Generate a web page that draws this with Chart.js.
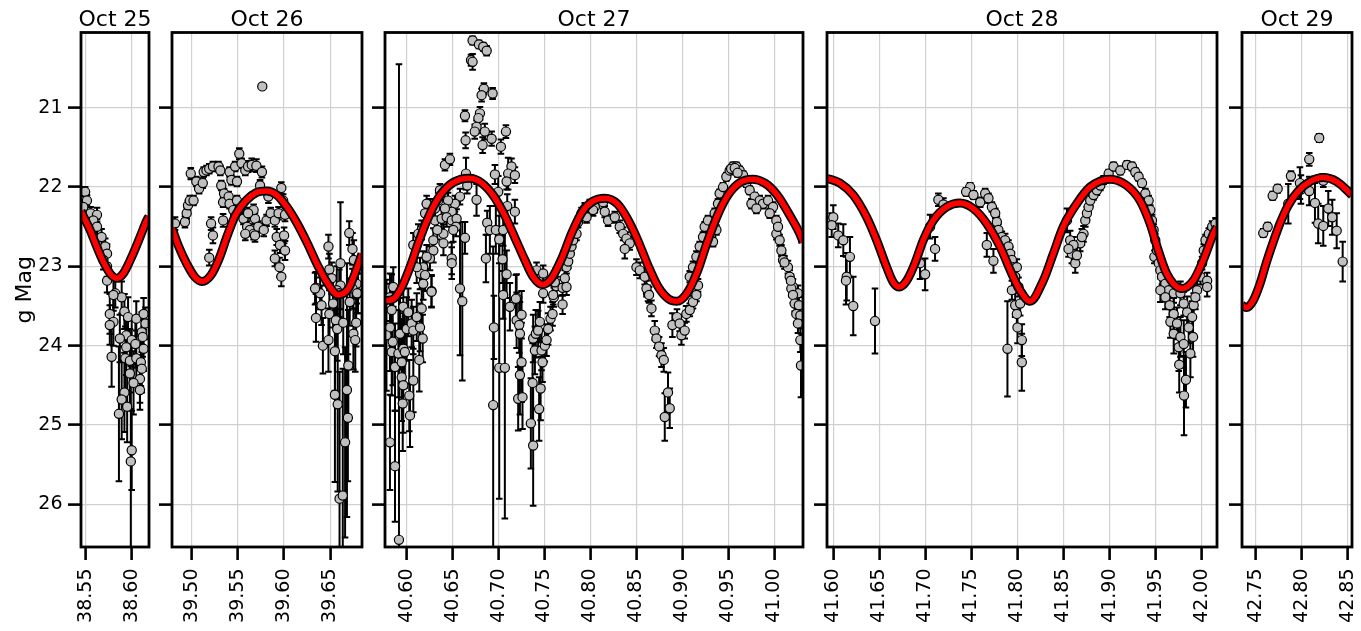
<!DOCTYPE html>
<html>
<head>
<meta charset="utf-8">
<title>g-band light curve</title>
<script src="https://cdn.jsdelivr.net/npm/chart.js@4.4.1/dist/chart.umd.min.js"></script>
<style>
  html, body { margin: 0; padding: 0; background: #fff; overflow: hidden; }
  #wrap { position: relative; width: 1361px; height: 631px; }
  #wrap canvas { position: absolute; top: 0; }
</style>
</head>
<body>
<div id="wrap"></div>
<script>
// ---- observations: time (MJD offset), g magnitude, 1-sigma error ----
const oct25Time = [
  38.5490, 38.5510, 38.5470, 38.5550, 38.5620, 38.5580, 38.5620, 38.5670,
  38.5710, 38.5730, 38.5690, 38.5730, 38.5730, 38.5820, 38.5890, 38.5800,
  38.5760, 38.5800, 38.5760, 38.5920, 38.5960, 38.6050, 38.6130, 38.6150,
  38.6110, 38.6120, 38.5940, 38.5870, 38.6000, 38.6040, 38.6130, 38.5940,
  38.5780, 38.5930, 38.5980, 38.6050, 38.6100, 38.6110, 38.5980, 38.6090,
  38.6020, 38.6090, 38.5920, 38.5890, 38.5950, 38.5860, 38.6000, 38.5990
];
const oct25Mag = [
  22.06, 22.17, 22.25, 22.33, 22.35, 22.42, 22.50, 22.63,
  22.75, 22.84, 22.92, 23.00, 23.18, 23.34, 23.39, 23.36,
  23.60, 23.70, 23.74, 23.57, 23.64, 23.66, 23.60, 23.72,
  23.83, 23.89, 23.87, 23.91, 23.93, 23.98, 24.04, 24.02,
  24.14, 24.16, 24.19, 24.16, 24.21, 24.29, 24.35, 24.42,
  24.47, 24.56, 24.59, 24.68, 24.77, 24.86, 25.32, 25.46
];
const oct25Err = [
  0.06, 0.07, 0.06, 0.08, 0.09, 0.08, 0.09, 0.10,
  0.10, 0.12, 0.12, 0.13, 0.15, 0.18, 0.20, 0.20,
  0.25, 0.30, 0.25, 0.22, 0.25, 0.22, 0.20, 0.20,
  0.25, 0.25, 0.30, 0.30, 0.30, 0.30, 0.28, 0.35,
  0.38, 0.40, 0.40, 0.35, 0.30, 0.30, 0.45, 0.30,
  0.40, 0.25, 0.50, 0.50, 0.45, 0.85, 0.50, 1.20
];

const oct26Time = [
  39.5764, 39.4820, 39.4927, 39.4946, 39.4960, 39.4980, 39.5020, 39.4990,
  39.5050, 39.5080, 39.5120, 39.5130, 39.5160, 39.5190, 39.5230, 39.5290,
  39.5310, 39.5210, 39.5230, 39.5190, 39.5320, 39.5350, 39.5340, 39.5340,
  39.5400, 39.5410, 39.5430, 39.5470, 39.5490, 39.5515, 39.5540, 39.5580,
  39.5610, 39.5650, 39.5700, 39.5760, 39.5740, 39.5410, 39.5450, 39.5490,
  39.5520, 39.5560, 39.5600, 39.5630, 39.5670, 39.5685, 39.5720, 39.5780,
  39.5810, 39.5855, 39.5900, 39.5940, 39.5970, 39.5990, 39.6010, 39.5920,
  39.5955, 39.6000, 39.6010, 39.5900, 39.5950, 39.5970, 39.5830, 39.5670,
  39.5610, 39.5580, 39.5685, 39.6345, 39.6390, 39.6480, 39.6490, 39.6515,
  39.6610, 39.6705, 39.6740, 39.6755, 39.6785, 39.6800, 39.6610, 39.6570,
  39.6335, 39.6345, 39.6405, 39.6420, 39.6480, 39.6490, 39.6530, 39.6550,
  39.6560, 39.6575, 39.6597, 39.6640, 39.6710, 39.6740, 39.6750, 39.6770,
  39.6780, 39.6790, 39.6695, 39.6680, 39.6690, 39.6660, 39.6550, 39.6580,
  39.6600, 39.6635
];
const oct26Mag = [
  20.73, 22.46, 22.44, 22.33, 22.23, 22.17, 22.17, 21.83,
  21.93, 22.02, 21.95, 21.81, 21.79, 21.77, 21.74, 21.74,
  21.79, 22.46, 22.61, 22.89, 21.98, 22.08, 22.19, 22.42,
  22.12, 21.81, 21.91, 21.74, 21.93, 21.58, 21.70, 21.79,
  21.74, 21.72, 21.73, 21.81, 21.98, 22.21, 22.29, 22.17,
  22.27, 22.40, 22.50, 22.54, 22.59, 22.40, 22.50, 22.54,
  22.42, 22.33, 22.42, 22.33, 22.01, 22.17, 22.35, 22.63,
  22.73, 22.61, 22.80, 22.90, 23.01, 23.13, 22.12, 22.29,
  22.33, 22.59, 22.61, 23.27, 23.34, 22.75, 23.04, 23.15,
  22.96, 22.58, 22.78, 22.92, 23.22, 23.34, 23.24, 23.30,
  23.28, 23.65, 23.49, 24.00, 23.93, 23.60, 23.47, 24.07,
  23.68, 23.79, 23.34, 23.71, 23.45, 23.28, 23.85, 23.93,
  23.71, 23.34, 24.25, 24.56, 24.91, 25.22, 24.62, 24.74,
  25.93, 25.89
];
const oct26Err = [
  0.03, 0.08, 0.07, 0.07, 0.06, 0.06, 0.06, 0.07,
  0.06, 0.06, 0.06, 0.06, 0.06, 0.06, 0.06, 0.06,
  0.06, 0.08, 0.10, 0.10, 0.06, 0.06, 0.06, 0.08,
  0.06, 0.06, 0.06, 0.06, 0.06, 0.07, 0.06, 0.06,
  0.07, 0.08, 0.08, 0.07, 0.07, 0.06, 0.06, 0.06,
  0.06, 0.07, 0.07, 0.07, 0.07, 0.07, 0.07, 0.08,
  0.07, 0.07, 0.08, 0.08, 0.07, 0.08, 0.08, 0.10,
  0.10, 0.10, 0.12, 0.10, 0.12, 0.12, 0.08, 0.07,
  0.07, 0.08, 0.08, 0.20, 0.20, 0.15, 0.20, 0.20,
  0.77, 0.15, 0.20, 0.25, 0.25, 0.25, 0.30, 0.30,
  0.20, 0.30, 0.25, 0.35, 0.40, 0.30, 0.30, 0.50,
  0.35, 0.40, 0.30, 0.40, 0.30, 0.25, 0.45, 0.40,
  0.30, 0.25, 0.70, 1.60, 0.80, 1.20, 1.10, 1.10,
  1.60, 1.60
];

const oct27Time = [
  40.6717, 40.6786, 40.6833, 40.6870, 40.6700, 40.6717, 40.6840, 40.6815,
  40.6935, 40.6634, 40.6797, 40.6780, 40.6760, 40.6740, 40.6850, 40.6924,
  40.6826, 40.6641, 40.7080, 40.7025, 40.6416, 40.6470, 40.6960, 40.7140,
  40.7104, 40.7177, 40.7087, 40.6645, 40.6659, 40.6760, 40.6996, 40.7094,
  40.7177, 40.6876, 40.6905, 40.6970, 40.7007, 40.7050, 40.6862, 40.7043,
  40.7087, 40.6634, 40.6580, 40.6605, 40.7050, 40.7196, 40.6580, 40.6525,
  40.6490, 40.6450, 40.6416, 40.6362, 40.6343, 40.6308, 40.6253, 40.6217,
  40.6200, 40.6308, 40.6380, 40.6435, 40.6490, 40.6543, 40.6536, 40.6507,
  40.6400, 40.6333, 40.6290, 40.6400, 40.6290, 40.6253, 40.6217, 40.6163,
  40.6126, 40.6072, 40.6180, 40.6145, 40.6200, 40.6180, 40.6270, 40.6490,
  40.6490, 40.6109, 40.5854, 40.5818, 40.5837, 40.5818, 40.5848, 40.5837,
  40.5780, 40.5873, 40.5910, 40.5946, 40.5963, 40.5980, 40.5927, 40.6000,
  40.5963, 40.6017, 40.6054, 40.6072, 40.6109, 40.6145, 40.6163, 40.6174,
  40.6137, 40.6072, 40.6028, 40.5946, 40.5963, 40.5957, 40.6036, 40.5818,
  40.5873, 40.5916, 40.6270, 40.6949, 40.6941, 40.7007, 40.7068, 40.7123,
  40.7188, 40.7196, 40.7224, 40.7250, 40.7232, 40.7250, 40.7232, 40.7213,
  40.7260, 40.7351, 40.7376, 40.7370, 40.7441, 40.7457, 40.7376, 40.7405,
  40.7430, 40.7449, 40.7395, 40.7478, 40.7467, 40.7503, 40.7522, 40.7539,
  40.7565, 40.7587, 40.7601, 40.7630, 40.7696, 40.7696, 40.7413, 40.7485,
  40.7612, 40.7594, 40.7485, 40.7720, 40.7739, 40.7757, 40.7775, 40.7793,
  40.7811, 40.7848, 40.7865, 40.7902, 40.7938, 40.7992, 40.8047, 40.7957,
  40.7739, 40.8028, 40.8137, 40.8155, 40.8191, 40.8264, 40.8318, 40.8355,
  40.8391, 40.8427, 40.8373, 40.8500, 40.8536, 40.8590, 40.8626, 40.8609,
  40.8637, 40.8663, 40.8699, 40.8717, 40.8746, 40.8772, 40.8797, 40.8843,
  40.8862, 40.8808, 40.8891, 40.8941, 40.8970, 40.8989, 40.9025, 40.9043,
  40.9080, 40.9115, 40.9152, 40.9170, 40.9080, 40.9115, 40.9152, 40.9188,
  40.9224, 40.9242, 40.9278, 40.9315, 40.9333, 40.9370, 40.9351, 40.9387,
  40.9405, 40.9442, 40.9478, 40.9514, 40.9550, 40.9587, 40.9623, 40.9660,
  40.9696, 40.9732, 40.9786, 40.9841, 40.9877, 40.9932, 40.9986, 41.0022,
  41.0022, 41.0058, 41.0077, 41.0095, 41.0148, 41.0167, 41.0203, 41.0257,
  40.9751, 40.9805, 40.9950, 41.0185, 41.0203, 41.0221, 41.0267, 41.0239,
  41.0283, 41.0257, 41.0283, 41.0290, 40.9530, 40.9570, 40.9600, 41.0040,
  41.0110, 41.0180
];
const oct27Mag = [
  20.15, 20.20, 20.23, 20.28, 20.40, 20.42, 20.76, 20.84,
  20.82, 21.10, 21.07, 21.13, 21.24, 21.30, 21.30, 21.39,
  21.47, 21.41, 21.30, 21.49, 21.72, 21.65, 21.84, 21.74,
  21.83, 21.85, 21.93, 21.83, 21.98, 22.16, 22.06, 22.24,
  22.31, 22.45, 22.54, 22.54, 22.66, 22.54, 22.90, 22.91,
  23.10, 22.64, 23.28, 23.44, 23.36, 23.40, 22.12, 22.21,
  22.31, 22.17, 22.27, 22.04, 22.17, 22.27, 22.25, 22.21,
  22.33, 22.42, 22.40, 22.38, 22.42, 22.40, 22.50, 22.54,
  22.59, 22.54, 22.67, 22.71, 22.80, 22.90, 22.88, 22.54,
  22.59, 22.73, 23.01, 23.09, 23.11, 23.22, 23.31, 22.90,
  22.96, 23.01, 23.26, 23.39, 23.55, 23.77, 23.95, 24.08,
  23.87, 24.27, 24.10, 24.21, 24.04, 24.08, 23.85, 23.79,
  23.51, 23.58, 23.72, 23.81, 23.64, 23.77, 23.53, 23.91,
  24.18, 24.44, 24.63, 24.40, 24.50, 24.73, 24.88, 25.22,
  25.52, 26.45, 23.32, 23.77, 24.75, 24.28, 24.28, 23.51,
  23.41, 23.68, 23.74, 23.61, 23.85, 24.21, 24.37, 24.67,
  24.65, 24.98, 25.26, 24.47, 24.80, 24.54, 23.91, 23.85,
  23.81, 23.70, 24.06, 24.21, 24.06, 24.00, 23.93, 23.79,
  23.66, 23.60, 23.39, 23.25, 23.27, 23.48, 23.05, 23.09,
  23.20, 23.36, 23.34, 23.15, 23.01, 22.94, 22.84, 22.75,
  22.67, 22.59, 22.44, 22.33, 22.27, 22.23, 22.25, 22.38,
  23.26, 22.29, 22.19, 22.31, 22.42, 22.38, 22.50, 22.59,
  22.65, 22.71, 22.78, 23.01, 23.05, 23.13, 23.34, 23.28,
  23.36, 23.53, 23.81, 23.91, 24.01, 24.12, 24.18, 24.59,
  24.79, 24.90, 23.74, 23.64, 23.72, 23.87, 23.81, 23.60,
  23.55, 23.45, 23.36, 23.24, 23.13, 23.01, 22.88, 22.75,
  22.63, 22.50, 22.42, 22.59, 22.69, 22.54, 22.33, 22.21,
  22.08, 22.00, 21.87, 21.79, 21.74, 21.74, 21.79, 21.85,
  21.95, 22.04, 22.12, 22.17, 22.21, 22.17, 22.25, 22.42,
  22.59, 22.67, 22.80, 22.92, 23.01, 23.13, 23.26, 23.34,
  22.21, 22.27, 22.33, 23.28, 23.36, 23.47, 23.49, 23.60,
  23.62, 23.72, 23.93, 24.25, 21.77, 21.76, 21.82, 22.50,
  22.95, 23.18
];
const oct27Err = [
  0.05, 0.05, 0.05, 0.06, 0.07, 0.10, 0.07, 0.08,
  0.07, 0.07, 0.08, 0.08, 0.08, 0.09, 0.10, 0.09,
  0.10, 0.10, 0.08, 0.09, 0.07, 0.07, 0.12, 0.10,
  0.20, 0.10, 0.10, 0.20, 0.10, 0.20, 0.20, 0.15,
  0.15, 0.15, 0.30, 0.30, 0.30, 0.20, 0.30, 0.30,
  0.30, 0.20, 0.84, 1.00, 0.30, 0.30, 0.10, 0.10,
  0.10, 0.10, 0.10, 0.08, 0.10, 0.10, 0.10, 0.10,
  0.12, 0.12, 0.12, 0.12, 0.12, 0.12, 0.12, 0.15,
  0.12, 0.12, 0.15, 0.15, 0.15, 0.15, 0.15, 0.12,
  0.12, 0.15, 0.20, 0.20, 0.20, 0.20, 0.20, 0.20,
  0.20, 0.20, 0.25, 0.30, 0.45, 0.55, 0.55, 0.55,
  0.70, 0.55, 0.55, 0.55, 0.45, 0.45, 0.45, 0.40,
  0.30, 0.30, 0.30, 0.30, 0.30, 0.30, 0.25, 0.30,
  0.40, 0.40, 0.45, 0.55, 0.60, 0.60, 0.40, 0.60,
  0.70, 6.00, 0.20, 0.40, 2.00, 1.65, 1.90, 0.30,
  0.30, 0.35, 0.35, 0.30, 0.40, 0.50, 0.50, 0.40,
  0.40, 0.57, 0.76, 0.50, 0.40, 0.40, 0.30, 0.30,
  0.25, 0.25, 0.30, 0.25, 0.25, 0.20, 0.20, 0.20,
  0.15, 0.15, 0.12, 0.12, 0.10, 0.12, 0.10, 0.10,
  0.10, 0.12, 0.12, 0.10, 0.08, 0.08, 0.08, 0.08,
  0.08, 0.08, 0.07, 0.07, 0.07, 0.07, 0.07, 0.07,
  0.10, 0.07, 0.08, 0.07, 0.07, 0.07, 0.08, 0.08,
  0.08, 0.08, 0.12, 0.10, 0.10, 0.10, 0.10, 0.10,
  0.10, 0.10, 0.12, 0.12, 0.12, 0.15, 0.15, 0.25,
  0.25, 0.30, 0.15, 0.10, 0.10, 0.12, 0.10, 0.10,
  0.08, 0.08, 0.08, 0.08, 0.07, 0.07, 0.07, 0.06,
  0.06, 0.06, 0.06, 0.06, 0.06, 0.06, 0.06, 0.06,
  0.05, 0.05, 0.05, 0.05, 0.05, 0.05, 0.05, 0.05,
  0.05, 0.05, 0.05, 0.06, 0.06, 0.06, 0.06, 0.06,
  0.07, 0.07, 0.07, 0.08, 0.08, 0.08, 0.10, 0.10,
  0.06, 0.06, 0.06, 0.10, 0.10, 0.10, 0.10, 0.12,
  0.12, 0.12, 0.15, 0.40, 0.05, 0.05, 0.05, 0.07,
  0.08, 0.08
];

const oct28Time = [
  41.6000, 41.5983, 41.6054, 41.6109, 41.6181, 41.6146, 41.6138, 41.6217,
  41.6453, 41.7141, 41.7196, 41.7105, 41.6997, 41.7051, 41.6942, 41.7486,
  41.7442, 41.7522, 41.7595, 41.7649, 41.7685, 41.7722, 41.7758, 41.7776,
  41.7793, 41.7830, 41.7866, 41.7902, 41.7921, 41.7939, 41.7957, 41.7667,
  41.7739, 41.7993, 41.7891, 41.7975, 41.7993, 41.8000, 41.8047, 41.8047,
  41.8029, 41.7939, 41.8011, 41.7975, 41.8537, 41.8572, 41.8590, 41.8627,
  41.8645, 41.8681, 41.8717, 41.8736, 41.8699, 41.8608, 41.8554, 41.8754,
  41.8772, 41.8790, 41.8826, 41.8862, 41.8899, 41.8935, 41.8990, 41.9043,
  41.9116, 41.9189, 41.9243, 41.9279, 41.9315, 41.9352, 41.9388, 41.9424,
  41.9442, 41.9460, 41.9478, 41.9496, 41.9486, 41.9515, 41.9533, 41.9551,
  41.9569, 41.9605, 41.9642, 41.9696, 41.9950, 41.9986, 42.0004, 42.0022,
  42.0041, 42.0077, 42.0113, 42.0150, 42.0059, 41.9551, 41.9605, 41.9652,
  41.9696, 41.9660, 41.9732, 41.9696, 41.9769, 41.9751, 41.9805, 41.9756,
  41.9829, 41.9808, 41.9877, 41.9906, 41.9859, 41.9842, 41.9896, 41.9913,
  41.9931, 41.9805, 41.9769, 42.0059
];
const oct28Mag = [
  22.38, 22.48, 22.61, 22.67, 22.88, 23.13, 23.18, 23.50,
  23.69, 22.16, 22.22, 22.78, 23.10, 22.50, 22.96, 22.00,
  22.06, 22.10, 22.19, 22.08, 22.14, 22.25, 22.33, 22.44,
  22.54, 22.63, 22.67, 22.75, 22.84, 22.92, 23.01, 22.73,
  22.93, 23.01, 24.04, 23.49, 23.60, 23.77, 23.93, 24.21,
  23.47, 23.30, 23.26, 23.13, 22.42, 22.67, 22.84, 22.96,
  22.86, 22.71, 22.59, 22.42, 22.63, 22.73, 22.78, 22.33,
  22.25, 22.17, 22.10, 22.04, 21.98, 21.91, 21.83, 21.74,
  21.79, 21.72, 21.74, 21.81, 21.87, 21.95, 22.08, 22.17,
  22.29, 22.42, 22.54, 22.67, 22.88, 22.80, 22.96, 23.05,
  23.13, 23.22, 23.30, 23.34, 23.30, 23.13, 22.96, 22.80,
  22.67, 22.59, 22.50, 22.46, 23.18, 23.30, 23.39, 23.49,
  23.60, 23.70, 23.72, 23.85, 23.89, 24.02, 23.98, 24.24,
  24.43, 24.63, 24.10, 23.89, 23.77, 23.58, 23.64, 23.49,
  23.39, 23.47, 23.34, 23.26
];
const oct28Err = [
  0.15, 0.15, 0.15, 0.20, 0.25, 0.30, 0.30, 0.37,
  0.41, 0.08, 0.08, 0.15, 0.20, 0.15, 0.20, 0.05,
  0.05, 0.05, 0.06, 0.06, 0.06, 0.06, 0.06, 0.07,
  0.07, 0.07, 0.08, 0.08, 0.08, 0.10, 0.10, 0.15,
  0.15, 0.10, 0.60, 0.15, 0.15, 0.20, 0.20, 0.36,
  0.15, 0.12, 0.12, 0.10, 0.15, 0.12, 0.12, 0.12,
  0.10, 0.10, 0.10, 0.08, 0.10, 0.10, 0.10, 0.08,
  0.07, 0.07, 0.06, 0.06, 0.06, 0.05, 0.05, 0.05,
  0.05, 0.05, 0.05, 0.05, 0.05, 0.05, 0.06, 0.06,
  0.06, 0.07, 0.07, 0.08, 0.08, 0.08, 0.08, 0.10,
  0.10, 0.10, 0.10, 0.12, 0.12, 0.10, 0.08, 0.08,
  0.07, 0.07, 0.07, 0.07, 0.10, 0.15, 0.15, 0.15,
  0.20, 0.20, 0.20, 0.25, 0.25, 0.30, 0.30, 0.35,
  0.35, 0.50, 0.30, 0.25, 0.20, 0.20, 0.20, 0.15,
  0.15, 0.15, 0.15, 0.12
];

const oct29Time = [
  42.7582, 42.7630, 42.7684, 42.7738, 42.7853, 42.7882, 42.7979, 42.7990,
  42.8080, 42.8080, 42.8142, 42.8188, 42.8177, 42.8232, 42.8232, 42.8286,
  42.8329, 42.8377, 42.8442
];
const oct29Mag = [
  22.58, 22.50, 22.11, 22.02, 22.21, 21.86, 21.95, 22.03,
  21.65, 22.05, 22.20, 21.38, 22.46, 22.49, 21.92, 22.27,
  22.38, 22.55, 22.94
];
const oct29Err = [
  0.05, 0.05, 0.05, 0.05, 0.25, 0.06, 0.20, 0.18,
  0.08, 0.18, 0.25, 0.05, 0.25, 0.25, 0.08, 0.22,
  0.22, 0.22, 0.25
];

// ---- periodic model, sampled along each night ----
const oct25FitTime = [
  38.5445, 38.5464, 38.5544, 38.5617, 38.5689, 38.5763, 38.5836, 38.5908,
  38.6000, 38.6091, 38.6164, 38.6189
];
const oct25FitMag = [
  22.30, 22.35, 22.54, 22.75, 22.94, 23.09, 23.15, 23.09,
  22.88, 22.63, 22.42, 22.37
];

const oct26FitTime = [
  39.4787, 39.4853, 39.4943, 39.5031, 39.5111, 39.5209, 39.5298, 39.5386,
  39.5475, 39.5587, 39.5698, 39.5808, 39.5920, 39.6030, 39.6142, 39.6252,
  39.6364, 39.6474, 39.6585, 39.6697, 39.6786, 39.6843
];
const oct26FitMag = [
  22.52, 22.73, 22.96, 23.13, 23.19, 23.11, 22.90, 22.61,
  22.35, 22.17, 22.07, 22.05, 22.10, 22.25, 22.46, 22.71,
  22.99, 23.22, 23.36, 23.28, 23.03, 22.84
];

const oct27FitTime = [
  40.5764, 40.5781, 40.5857, 40.5947, 40.6036, 40.6125, 40.6214, 40.6326,
  40.6460, 40.6594, 40.6683, 40.6817, 40.6951, 40.7063, 40.7174, 40.7286,
  40.7375, 40.7478, 40.7576, 40.7688, 40.7799, 40.7911, 40.8023, 40.8157,
  40.8291, 40.8402, 40.8514, 40.8626, 40.8737, 40.8849, 40.8938, 40.9049,
  40.9161, 40.9272, 40.9384, 40.9496, 40.9630, 40.9764, 40.9898, 41.0031,
  41.0165, 41.0299, 41.0312
];
const oct27FitMag = [
  23.43, 23.43, 23.41, 23.26, 23.01, 22.71, 22.44, 22.17,
  21.98, 21.90, 21.89, 21.95, 22.12, 22.35, 22.63, 22.92,
  23.13, 23.23, 23.15, 22.90, 22.57, 22.31, 22.18, 22.14,
  22.21, 22.40, 22.67, 22.99, 23.26, 23.41, 23.44, 23.34,
  23.07, 22.69, 22.35, 22.10, 21.94, 21.90, 21.95, 22.10,
  22.35, 22.65, 22.70
];

const oct28FitTime = [
  41.5932, 41.6073, 41.6217, 41.6363, 41.6471, 41.6580, 41.6651, 41.6717,
  41.6797, 41.6887, 41.6977, 41.7086, 41.7231, 41.7376, 41.7520, 41.7666,
  41.7810, 41.7937, 41.8027, 41.8136, 41.8280, 41.8389, 41.8497, 41.8643,
  41.8787, 41.9004, 41.9186, 41.9330, 41.9439, 41.9529, 41.9620, 41.9783,
  41.9909, 42.0018, 42.0126, 42.0166
];
const oct28FitMag = [
  21.89, 21.95, 22.10, 22.38, 22.67, 23.01, 23.20, 23.26,
  23.18, 22.96, 22.67, 22.42, 22.25, 22.20, 22.27, 22.46,
  22.75, 23.09, 23.30, 23.44, 23.18, 22.84, 22.50, 22.21,
  22.00, 21.90, 21.98, 22.17, 22.46, 22.80, 23.09, 23.28,
  23.18, 22.92, 22.59, 22.50
];

const oct29FitTime = [
  42.7352, 42.7402, 42.7474, 42.7547, 42.7619, 42.7691, 42.7763, 42.7853,
  42.7962, 42.8088, 42.8232, 42.8378, 42.8543
];
const oct29FitMag = [
  23.49, 23.52, 23.43, 23.22, 22.94, 22.69, 22.46, 22.23,
  22.05, 21.93, 21.88, 21.93, 22.10
];

const nightLabels = ['Oct 25', 'Oct 26', 'Oct 27', 'Oct 28', 'Oct 29'];

// shared magnitude range (inverted axis)
const MAG_MIN = 20.05;
const MAG_MAX = 26.54;

// one panel per night; left/right are the plot-area edges on the page
const panels = [
  { time: oct25Time, mag: oct25Mag, err: oct25Err, fitTime: oct25FitTime, fitMag: oct25FitMag, xMin: 38.5445, xMax: 38.6189, left: 81,   right: 149 },
  { time: oct26Time, mag: oct26Mag, err: oct26Err, fitTime: oct26FitTime, fitMag: oct26FitMag, xMin: 39.4787, xMax: 39.6843, left: 172,  right: 362 },
  { time: oct27Time, mag: oct27Mag, err: oct27Err, fitTime: oct27FitTime, fitMag: oct27FitMag, xMin: 40.5764, xMax: 41.0312, left: 385,  right: 803 },
  { time: oct28Time, mag: oct28Mag, err: oct28Err, fitTime: oct28FitTime, fitMag: oct28FitMag, xMin: 41.5932, xMax: 42.0166, left: 827,  right: 1217 },
  { time: oct29Time, mag: oct29Mag, err: oct29Err, fitTime: oct29FitTime, fitMag: oct29FitMag, xMin: 42.7352, xMax: 42.8543, left: 1242, right: 1352 }
];

const PAGE_W = 1361;
const PAGE_H = 631;
const PLOT_TOP = 32.5;
const PLOT_BOTTOM = 547;

Chart.defaults.font.family = '"DejaVu Sans", sans-serif';
Chart.defaults.color = '#000';

// vertical error bars with caps, drawn underneath the markers
const errorBars = {
  id: 'errorBars',
  beforeDatasetsDraw(chart) {
    const ds = chart.data.datasets.find(d => d.errors);
    if (!ds) return;
    const { ctx, chartArea: a, scales: { x, y } } = chart;
    ctx.save();
    ctx.beginPath();
    ctx.rect(a.left, a.top, a.right - a.left, a.bottom - a.top);
    ctx.clip();
    ctx.strokeStyle = '#000';
    ctx.lineWidth = 2;
    ds.data.forEach((pt, k) => {
      const e = ds.errors[k];
      const px = x.getPixelForValue(pt.x);
      const y1 = y.getPixelForValue(pt.y - e);
      const y2 = y.getPixelForValue(pt.y + e);
      ctx.beginPath();
      ctx.moveTo(px, y1); ctx.lineTo(px, y2);
      ctx.moveTo(px - 3.3, y1); ctx.lineTo(px + 3.3, y1);
      ctx.moveTo(px - 3.3, y2); ctx.lineTo(px + 3.3, y2);
      ctx.stroke();
    });
    ctx.restore();
  }
};

// box around the plot area plus the night label above it
const panelFrame = {
  id: 'panelFrame',
  afterDraw(chart, args, opts) {
    const { ctx, chartArea: a } = chart;
    ctx.save();
    ctx.strokeStyle = '#000';
    ctx.lineWidth = 2.8;
    ctx.strokeRect(a.left, a.top, a.right - a.left, a.bottom - a.top);
    ctx.fillStyle = '#000';
    ctx.font = '22px "DejaVu Sans"';
    ctx.textAlign = 'center';
    ctx.textBaseline = 'alphabetic';
    ctx.fillText(opts.title, (a.left + a.right) / 2, 26);
    ctx.restore();
  }
};

const wrap = document.getElementById('wrap');

panels.forEach((p, i) => {
  const first = i === 0;
  const axisW = first ? p.left : 14;
  const padRight = Math.min(12, PAGE_W - p.right);
  const canvas = document.createElement('canvas');
  canvas.width = p.right - p.left + axisW + padRight;
  canvas.height = PAGE_H;
  canvas.style.left = (p.left - axisW) + 'px';
  wrap.appendChild(canvas);

  const obs = p.time.map((t, k) => ({ x: t, y: p.mag[k] }));
  const fit = p.fitTime.map((t, k) => ({ x: t, y: p.fitMag[k] }));

  const grid = { color: '#d0d0d0', lineWidth: 1.2, tickColor: '#000', tickWidth: 2.6, tickLength: 13 };

  new Chart(canvas, {
    type: 'scatter',
    data: {
      datasets: [
        { type: 'line', data: fit, borderColor: '#ff0000', borderWidth: 5.5, pointRadius: 0,
          cubicInterpolationMode: 'monotone', fill: false, clip: 0, order: 0 },
        { type: 'line', data: fit, borderColor: '#000', borderWidth: 9, pointRadius: 0,
          cubicInterpolationMode: 'monotone', fill: false, clip: 0, order: 1 },
        { data: obs, errors: p.err, pointRadius: 4.6, pointBackgroundColor: '#c0c0c0',
          pointBorderColor: '#000', pointBorderWidth: 1.2, clip: 0, order: 2 }
      ]
    },
    options: {
      responsive: false,
      animation: false,
      events: [],
      layout: { padding: { top: PLOT_TOP, bottom: 0, left: 0, right: padRight } },
      plugins: {
        legend: { display: false },
        tooltip: { enabled: false },
        panelFrame: { title: nightLabels[i] }
      },
      scales: {
        x: {
          type: 'linear',
          min: p.xMin,
          max: p.xMax,
          grid: grid,
          border: { display: false },
          ticks: {
            stepSize: 0.05, includeBounds: false, autoSkip: false,
            minRotation: 90, maxRotation: 90, padding: 8.5,
            font: { size: 19 },
            callback: v => v.toFixed(2)
          },
          afterFit(s) { s.height = PAGE_H - PLOT_BOTTOM; s.paddingLeft = 0; s.paddingRight = 0; }
        },
        y: {
          type: 'linear',
          reverse: true,
          min: MAG_MIN,
          max: MAG_MAX,
          grid: grid,
          border: { display: false },
          ticks: { stepSize: 1, includeBounds: false, display: first, padding: 5.5, font: { size: 19 } },
          title: { display: first, text: 'g Mag', font: { size: 22 }, padding: { top: 12.2, bottom: 0 } },
          afterFit(s) { s.width = axisW; s.paddingTop = 0; s.paddingBottom = 0; }
        }
      }
    },
    plugins: [errorBars, panelFrame]
  });
});
</script>
</body>
</html>
